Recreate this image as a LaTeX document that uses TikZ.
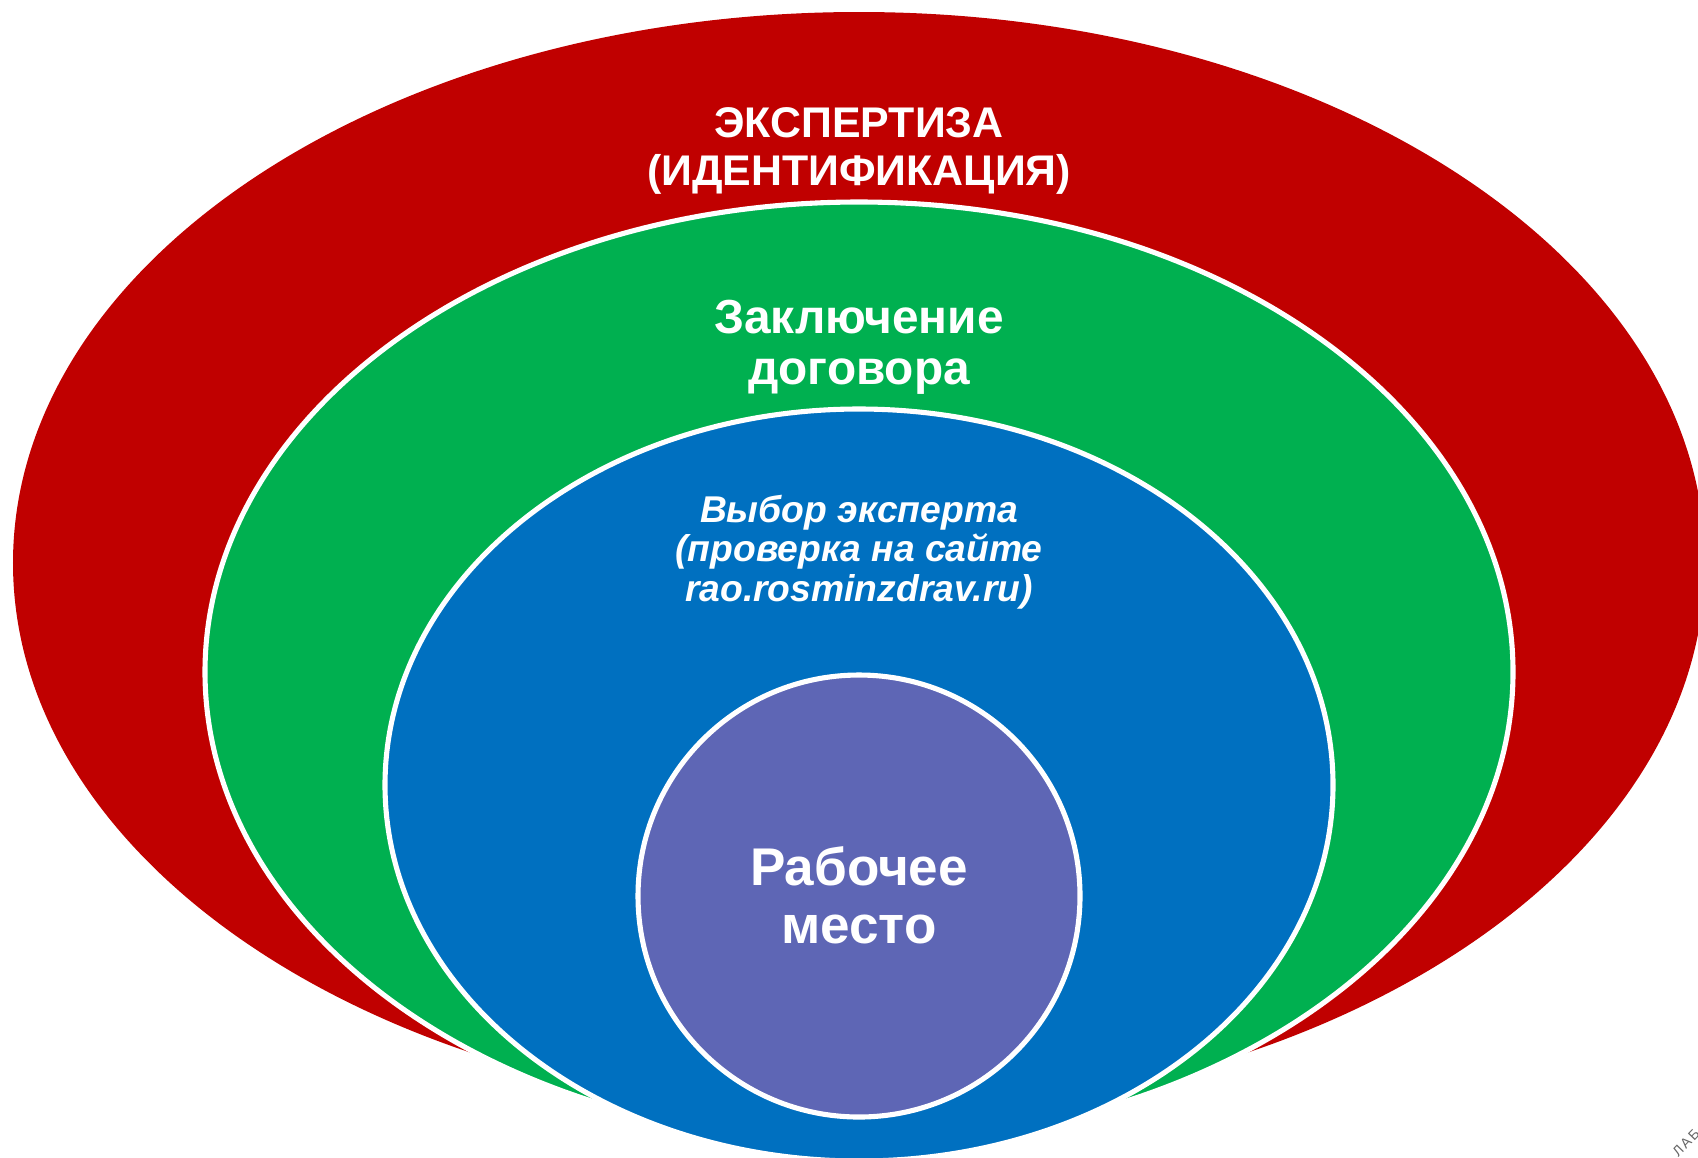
\documentclass[tikz,border=0pt]{standalone}
\usepackage{fontspec}
\setmainfont{Liberation Sans}
\usepackage{tikz}
\definecolor{expred}{HTML}{C00000}
\definecolor{dealgreen}{HTML}{00B050}
\definecolor{pickblue}{HTML}{0070C0}
\definecolor{placec}{HTML}{5E66B5}

\begin{document}
\begin{tikzpicture}[ring/.style={draw=white,line width=1.45pt},
  lbl/.style={text=white,align=center,inner sep=0pt}]
\useasboundingbox (0,0) rectangle (16.98,-11.57);
\begin{scope}
\clip (0,0) rectangle (16.98,-11.57);
\fill[expred] (8.59,-5.63) ellipse (8.46 and 5.51);
\filldraw[fill=dealgreen,ring] (8.59,-6.72) ellipse (6.54 and 4.70);
\filldraw[fill=pickblue,ring] (8.59,-7.85) ellipse (4.74 and 3.76);
\filldraw[fill=placec,ring] (8.59,-8.96) circle (2.21);
\end{scope}

\node[lbl,font=\fontsize{12.2}{13.6}\selectfont\bfseries] (expert) at (8.59,-1.51) {ЭКСПЕРТИЗА\\(ИДЕНТИФИКАЦИЯ)};
\node[lbl,font=\fontsize{13.6}{14.5}\selectfont\bfseries] (deal) at (8.59,-3.47) {Заключение\\договора};
\node[lbl,font=\fontsize{10.6}{11.2}\selectfont\bfseries\itshape] (pick) at (8.59,-5.52) {Выбор эксперта\\(проверка на сайте\\rao.rosminzdrav.ru)};
\node[lbl,font=\fontsize{15.1}{16.5}\selectfont\bfseries] (place) at (8.59,-8.95) {Рабочее\\место};
\node[text=black!60,rotate=46,font=\fontsize{4}{5}\selectfont,inner sep=0pt] (lab) at (16.86,-11.43) {Л\hspace{0.6pt}А\hspace{0.6pt}Б};
\end{tikzpicture}
\end{document}
